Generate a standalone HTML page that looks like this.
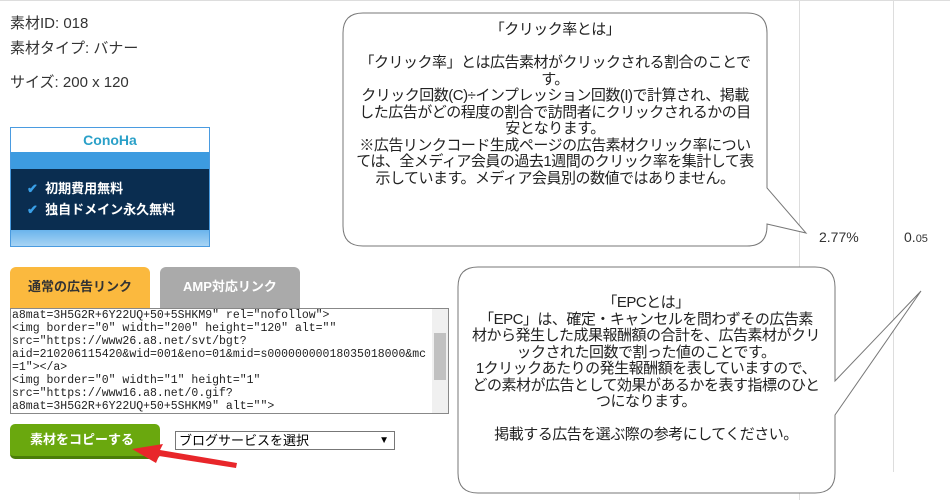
<!DOCTYPE html>
<html><head><meta charset="utf-8"><style>
body{margin:0;width:950px;height:500px;background:#fff;position:relative;overflow:hidden;font-family:"Liberation Sans","Noto Sans CJK JP",sans-serif;color:#333}
.a{position:absolute}
.t{font-size:15px;color:#333}
.code{font-family:"Liberation Mono","Noto Sans CJK JP",monospace;font-size:11.5px;line-height:13px;color:#222;white-space:pre;overflow:hidden}
.bub{font-family:"Liberation Sans","Noto Sans CJK JP",sans-serif;font-size:15px;line-height:16.5px;text-align:center;color:#222;letter-spacing:-0.5px}
</style></head><body>
<div class="a" style="left:0;top:0;width:950px;height:1px;background:#ddd"></div>
<div class="a" style="left:799px;top:0;width:1px;height:500px;background:#ddd"></div>
<div class="a" style="left:893px;top:0;width:1px;height:472px;background:#ddd"></div>
<div class="a t" style="left:10px;top:12px">素材ID: 018</div>
<div class="a t" style="left:10px;top:37px">素材タイプ: バナー</div>
<div class="a t" style="left:10px;top:71px">サイズ: 200 x 120</div>
<div class="a" style="left:10px;top:127px;width:198px;height:118px;border:1px solid #4a9be0;background:#fff">
 <div class="a" style="left:0;top:0;width:198px;height:24px;background:#fff;text-align:center;color:#2aa0c8;font-weight:bold;font-size:14px;line-height:24px">ConoHa</div>
 <div class="a" style="left:0;top:24px;width:198px;height:17px;background:#3d9be0"></div>
 <div class="a" style="left:0;top:41px;width:198px;height:61px;background:#0a2d50;color:#fff;font-weight:bold;font-size:13px;line-height:21px;padding-top:9px;box-sizing:border-box">
  <div style="padding-left:16px"><span style="color:#3aa0e8">✔</span>&nbsp; 初期費用無料</div>
  <div style="padding-left:16px"><span style="color:#3aa0e8">✔</span>&nbsp; 独自ドメイン永久無料</div>
 </div>
 <div class="a" style="left:0;top:102px;width:198px;height:16px;background:linear-gradient(#6ab4ec,#a8d4f4)"></div>
</div>
<div class="a" style="left:10px;top:267px;width:140px;height:41px;background:#fbb93e;border-radius:6px 6px 0 0;color:#333;font-weight:bold;font-size:13px;line-height:40px;text-align:center">通常の広告リンク</div>
<div class="a" style="left:160px;top:267px;width:140px;height:41px;background:#aaa;border-radius:6px 6px 0 0;color:#fff;font-weight:bold;font-size:13px;line-height:40px;text-align:center">AMP対応リンク</div>
<div class="a" style="left:10px;top:308px;width:437px;height:104px;border:1px solid #888;background:#fff">
 <div class="a code" style="left:1px;top:0;width:418px">a8mat=3H5G2R+6Y22UQ+50+5SHKM9" rel="nofollow">
&lt;img border="0" width="200" height="120" alt=""
src="https://www26.a8.net/svt/bgt?
aid=210206115420&amp;wid=001&amp;eno=01&amp;mid=s00000000018035018000&amp;mc
=1"&gt;&lt;/a&gt;
&lt;img border="0" width="1" height="1"
src="https://www16.a8.net/0.gif?
a8mat=3H5G2R+6Y22UQ+50+5SHKM9" alt=""&gt;</div>
 <div class="a" style="left:421px;top:0;width:16px;height:104px;background:#f0f0f0"></div>
 <div class="a" style="left:423px;top:24px;width:12px;height:47px;background:#c1c1c1"></div>
</div>
<div class="a" style="left:10px;top:424px;width:150px;height:35px;background:#6aa80e;border-radius:5px;border-bottom:3px solid #4a7d08;box-sizing:border-box;color:#fff;font-weight:bold;font-size:13px;line-height:32px;padding-left:20px">素材をコピーする</div>
<div class="a" style="left:175px;top:431px;width:220px;height:19px;border:1px solid #777;box-sizing:border-box;font-size:13px;line-height:17px;padding-left:3px;color:#000">ブログサービスを選択<span style="position:absolute;right:5px;font-size:10px">▼</span></div>
<svg class="a" style="left:0;top:0" width="950" height="500">
 <polygon points="237,463 160,450 163,444 132,449 156,463 159,456 236,468" fill="#e8262a"/>
 <path d="M363,13 H747 Q767,13 767,33 V188 L806,233 L767,224 V226 Q767,246 747,246 H363 Q343,246 343,226 V33 Q343,13 363,13 Z" fill="#fff" stroke="#777" stroke-width="1"/>
 <path d="M478,267 H815 Q835,267 835,287 V381 L921,291 L835,415 V473 Q835,493 815,493 H478 Q458,493 458,473 V287 Q458,267 478,267 Z" fill="#fff" stroke="#777" stroke-width="1"/>
</svg>
<div class="a bub" style="left:355px;top:22px;width:400px">「クリック率とは」<br><br>「クリック率」とは広告素材がクリックされる割合のことです。<br>クリック回数(C)÷インプレッション回数(I)で計算され、掲載した広告がどの程度の割合で訪問者にクリックされるかの目安となります。<br>※広告リンクコード生成ページの広告素材クリック率については、全メディア会員の過去1週間のクリック率を集計して表示しています。メディア会員別の数値ではありません。</div>
<div class="a bub" style="left:472px;top:295px;width:348px">「EPCとは」<br>「EPC」は、確定・キャンセルを問わずその広告素材から発生した成果報酬額の合計を、広告素材がクリックされた回数で割った値のことです。<br>1クリックあたりの発生報酬額を表していますので、どの素材が広告として効果があるかを表す指標のひとつになります。<br><br>掲載する広告を選ぶ際の参考にしてください。</div>
<div class="a" style="left:819px;top:229px;font-size:14px;color:#333">2.77%</div>
<div class="a" style="left:904px;top:229px;font-size:14px;color:#333">0.<span style="font-size:11px">05</span></div>
</body></html>
